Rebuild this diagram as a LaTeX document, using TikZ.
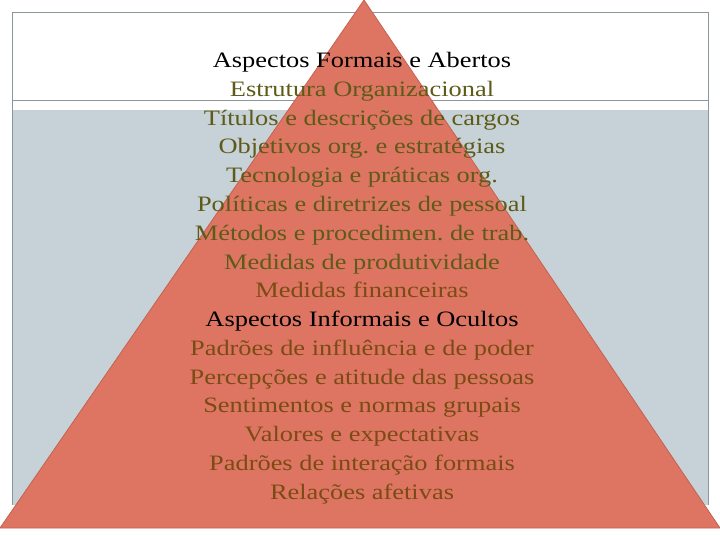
\documentclass[tikz,border=0pt]{standalone}
\usepackage{fontspec}
\setmainfont{Liberation Serif}[FakeStretch=1.2]
\frenchspacing
\definecolor{pyrfill}{HTML}{DE7562}
\definecolor{pyrdraw}{HTML}{C4624F}
\definecolor{panel}{HTML}{C6D1D8}
\definecolor{frameline}{HTML}{8C969B}
\definecolor{olivetext}{HTML}{5E5A17}
\definecolor{browntext}{HTML}{7A4C14}
\begin{document}
\begin{tikzpicture}[
    x=1pt, y=-1pt,
    every node/.style={align=center, inner sep=0pt, anchor=base, font=\fontsize{22}{27}\selectfont}
  ]
  \useasboundingbox (0,0) rectangle (720,540);
  % background panel
  \fill[white] (0,0) rectangle (720,540);
  \fill[panel] (12,110) rectangle (708,505);
  \draw[frameline] (12,505) -- (12,12) -- (708,12) -- (708,505);
  \draw[frameline] (12,100) -- (708,100);
  % pyramid
  \coordinate (apex) at (364,0);
  \coordinate (baseL) at (0,528);
  \coordinate (baseR) at (720,528);
  \filldraw[fill=pyrfill, draw=pyrdraw, line width=0.8pt] (apex) -- (baseL) -- (baseR) -- cycle;
  % text lines
  \foreach \txt/\col [count=\i] in {
      Aspectos Formais e Abertos/black,
      Estrutura Organizacional/olivetext,
      Títulos e descrições de cargos/olivetext,
      Objetivos org. e estratégias/olivetext,
      Tecnologia e práticas org./olivetext,
      Políticas e diretrizes de pessoal/olivetext,
      Métodos e procedimen. de trab./olivetext,
      Medidas de produtividade/olivetext,
      Medidas financeiras/browntext,
      Aspectos Informais e Ocultos/black,
      Padrões de influência e de poder/browntext,
      Percepções e atitude das pessoas/browntext,
      Sentimentos e normas grupais/browntext,
      Valores e expectativas/browntext,
      Padrões de interação formais/browntext,
      Relações afetivas/browntext}
    \node[text=\col] (line\i) at (362, 39+28.75*\i) {\txt};
\end{tikzpicture}
\end{document}
